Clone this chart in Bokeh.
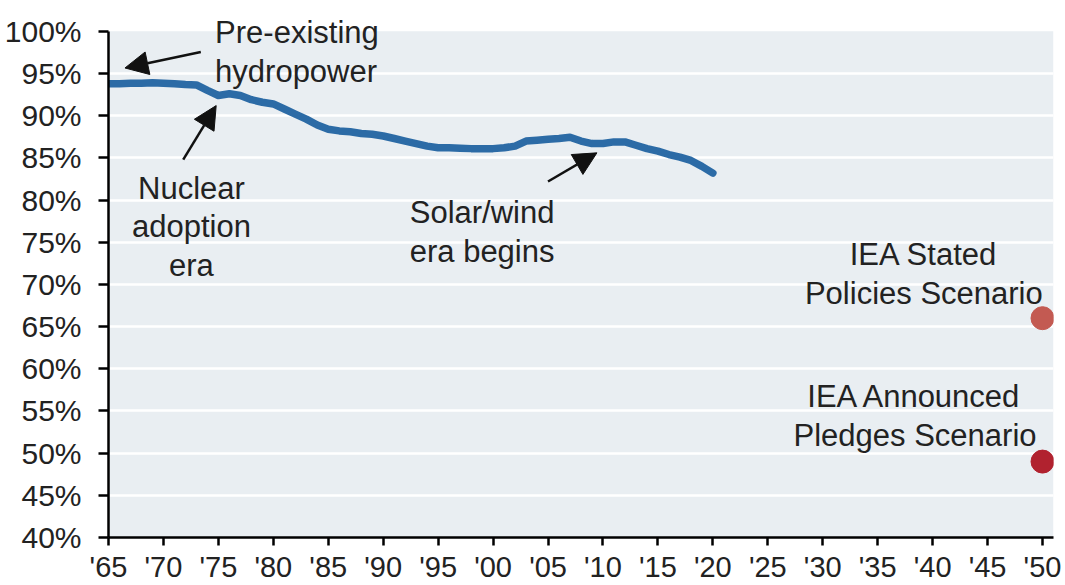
from bokeh.plotting import figure
from bokeh.models import Label, Arrow, NormalHead, FixedTicker, ColumnDataSource
from bokeh.embed import file_html
from bokeh.resources import INLINE

# ---------------- data ----------------
years = list(range(1965, 2021))
fossil_share = [
    93.8, 93.8, 93.85, 93.85, 93.9, 93.85, 93.8, 93.7, 93.65, 93.0,   # 1965-1974
    92.4, 92.6, 92.4, 91.9, 91.6, 91.4, 90.8, 90.2, 89.6, 88.9,       # 1975-1984
    88.4, 88.2, 88.1, 87.9, 87.8, 87.6, 87.3, 87.0, 86.7, 86.4,       # 1985-1994
    86.2, 86.2, 86.15, 86.1, 86.1, 86.1, 86.2, 86.4, 87.0, 87.1,      # 1995-2004
    87.2, 87.3, 87.45, 87.0, 86.7, 86.7, 86.9, 86.9, 86.5, 86.1,      # 2005-2014
    85.8, 85.4, 85.1, 84.7, 84.0, 83.2,                               # 2015-2020
]

scenario_names = ["IEA Stated Policies Scenario", "IEA Announced Pledges Scenario"]
scenario_year = [2050, 2050]
scenario_share = [66, 49]
scenario_colors = ["#C35A52", "#B1222F"]

y_ticks = [40, 45, 50, 55, 60, 65, 70, 75, 80, 85, 90, 95, 100]
y_tick_labels = ["40%", "45%", "50%", "55%", "60%", "65%", "70%", "75%",
                 "80%", "85%", "90%", "95%", "100%"]
x_ticks = [1965, 1970, 1975, 1980, 1985, 1990, 1995, 2000, 2005, 2010,
           2015, 2020, 2025, 2030, 2035, 2040, 2045, 2050]
x_tick_labels = ["'65", "'70", "'75", "'80", "'85", "'90", "'95", "'00", "'05",
                 "'10", "'15", "'20", "'25", "'30", "'35", "'40", "'45", "'50"]

# annotation texts and their anchor positions (data units)
ann_texts = ["Pre-existing\nhydropower", "Nuclear\nadoption\nera",
             "Solar/wind\nera begins", "IEA Stated\nPolicies Scenario",
             "IEA Announced\nPledges Scenario"]
ann_x = [1974.7, 1972.55, 1999.0, 2039.2, 2038.4]
ann_y = [101.9, 83.5, 80.6, 75.6, 58.75]
ann_align = ["left", "center", "center", "center", "center"]

# arrows: tail (x0, y0) -> head (x1, y1)
arrow_x0 = [1973.4, 1971.8, 2005.0]
arrow_y0 = [97.55, 84.8, 82.2]
arrow_x1 = [1966.5, 1974.8, 2009.45]
arrow_y1 = [95.66, 91.2, 85.6]

X_MIN, X_MAX = 1965, 2051
Y_MIN, Y_MAX = 40, 100
Y_TOP = 103.66          # room above the shaded panel for the top annotation

FONT = "Liberation Sans"
TEXT_COLOR = "#222222"
PANEL = "#E9EEF2"

# ---------------- figure ----------------
p = figure(width=1065, height=585, x_range=(X_MIN, X_MAX), y_range=(Y_MIN, Y_TOP),
           output_backend="svg", toolbar_location=None,
           min_border_left=108, min_border_right=12, min_border_top=0,
           min_border_bottom=45)
p.background_fill_color = "white"
p.border_fill_color = "white"
p.outline_line_color = None

# shaded panel (40%..100%) drawn beneath the grid
p.quad(left=[X_MIN], right=[X_MAX], bottom=[Y_MIN], top=[Y_MAX],
       fill_color=PANEL, line_color=None, level="image")

p.xgrid.grid_line_color = None
p.ygrid.grid_line_color = "white"
p.ygrid.grid_line_width = 2.5
p.ygrid.ticker = FixedTicker(ticks=y_ticks[1:-1])

for ax in (p.xaxis[0], p.yaxis[0]):
    ax.axis_line_color = "black"
    ax.axis_line_width = 2.5
    ax.major_tick_line_color = "black"
    ax.major_tick_line_width = 2.5
    ax.major_tick_in = 0
    ax.minor_tick_line_color = None
    ax.major_label_text_font = FONT
    ax.major_label_text_color = TEXT_COLOR

p.yaxis.bounds = (Y_MIN, Y_MAX)
p.yaxis.ticker = FixedTicker(ticks=y_ticks)
p.yaxis.major_label_overrides = {t: l for t, l in zip(y_ticks, y_tick_labels)}
p.yaxis.major_tick_out = 10
p.yaxis.major_label_standoff = 17
p.yaxis.major_label_text_font_size = "30px"

p.xaxis.ticker = FixedTicker(ticks=x_ticks)
p.xaxis.major_label_overrides = {t: l for t, l in zip(x_ticks, x_tick_labels)}
p.xaxis.major_tick_out = 8
p.xaxis.major_label_standoff = 5
p.xaxis.major_label_text_font_size = "29px"

# main line
p.line(years, fossil_share, line_color="#2C6BA6", line_width=7.5,
       line_cap="round", line_join="round")

# scenario points
src = ColumnDataSource(dict(x=scenario_year, y=scenario_share,
                            c=scenario_colors, n=scenario_names))
p.scatter("x", "y", source=src, size=23, fill_color="c", line_color="c")

# annotation texts
for t, x, y, a in zip(ann_texts, ann_x, ann_y, ann_align):
    p.add_layout(Label(x=x, y=y, text=t, text_align=a, text_baseline="top",
                       text_font=FONT, text_font_size="31px",
                       text_color=TEXT_COLOR, text_line_height=1.1))

# arrows
for x0, y0, x1, y1 in zip(arrow_x0, arrow_y0, arrow_x1, arrow_y1):
    p.add_layout(Arrow(x_start=x0, y_start=y0, x_end=x1, y_end=y1,
                       line_color="#111111", line_width=2.5,
                       end=NormalHead(size=23, fill_color="#111111",
                                      line_color="#111111", line_width=1)))

open("out.html", "w").write(file_html(p, INLINE))
